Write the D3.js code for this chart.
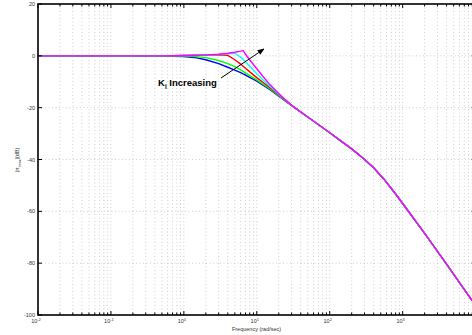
<!DOCTYPE html>
<html>
<head>
<meta charset="utf-8">
<script src="https://cdn.jsdelivr.net/npm/d3@7"></script>
<style>
  html, body { margin: 0; padding: 0; background: #fff; }
  svg { display: block; font-family: "Liberation Sans", Arial, sans-serif; }
</style>
</head>
<body>
<svg id="chart" width="472" height="335"></svg>
<script>
// Closed-loop magnitude for several integral gains (rad/sec vs dB)
const freq = [0.01, 0.1, 0.5, 1, 1.5, 2, 3, 4, 5, 6, 6.5, 7, 8, 10, 12, 15, 20, 25, 33, 50, 100, 140, 200, 290, 400, 550, 800, 1150, 2000, 3800, 9000];

const tail = [-20, -23.6, -29.7, -32.7, -35.9, -39.6, -43.2, -47.5, -53.3, -59.3, -68.5, -79.5, -94.5];
const magBlue    = [0, 0, -0.1, -0.3, -0.8, -1.5, -3.0, -4.4, -5.5, -6.5, -7.0, -7.4, -8.3, -9.8, -11.2, -13.0, -15.6, -17.6, ...tail];
const magGreen   = [0, 0, 0, -0.1, -0.3, -0.7, -1.8, -3.0, -4.2, -5.4, -6.0, -6.6, -7.6, -9.3, -10.8, -12.7, -15.4, -17.5, ...tail];
const magRed     = [0, 0, 0, 0.1, 0.2, 0.3, 0.4, 0.2, -1.5, -3.2, -4.0, -4.8, -6.2, -8.4, -10.1, -12.2, -15.1, -17.4, ...tail];
const magCyan    = [0, 0, 0, 0.1, 0.2, 0.3, 0.5, 0.8, 1.0, -0.5, -1.4, -2.3, -4.0, -6.9, -9.1, -11.6, -14.8, -17.2, ...tail];
const magMagenta = [0, 0, 0, 0.1, 0.2, 0.3, 0.6, 1.0, 1.4, 1.8, 2.0, 0.6, -1.6, -5.0, -7.8, -11.0, -14.5, -17.1, ...tail];

const seriesValues = [magBlue, magGreen, magRed, magCyan, magMagenta];
const seriesColors = ["#0000ff", "#00ff00", "#ff0000", "#00ffff", "#ff00ff"];

const yTicks = [20, 0, -20, -40, -60, -80, -100];
const xDecades = [-2, -1, 0, 1, 2, 3];

const svg = d3.select("#chart");
const margin = { left: 38, top: 4, right: 475.6, bottom: 315 };

const x = d3.scaleLog().domain([1e-2, 1e4]).range([margin.left, margin.right]);
const y = d3.scaleLinear().domain([-100, 20]).range([margin.bottom, margin.top]);

// minor + major log ticks
const allTicks = [];
for (let d = -2; d < 4; d++) {
  for (let k = 1; k <= 9; k++) allTicks.push(k * Math.pow(10, d));
}
allTicks.push(1e4);

const gridG = svg.append("g");
gridG.selectAll("line.vx").data(allTicks.filter(t => t > 1e-2 && t < 1e4)).join("line")
  .attr("x1", d => x(d)).attr("x2", d => x(d))
  .attr("y1", margin.top).attr("y2", margin.bottom)
  .attr("stroke", "#c4c4c4").attr("stroke-width", 0.8)
  .attr("stroke-dasharray", "1,2.5");
gridG.selectAll("line.hy").data(yTicks.filter(t => t > -100 && t < 20)).join("line")
  .attr("x1", margin.left).attr("x2", margin.right)
  .attr("y1", d => y(d)).attr("y2", d => y(d))
  .attr("stroke", "#c4c4c4").attr("stroke-width", 0.8)
  .attr("stroke-dasharray", "1,2.5");

// curves
const line = d3.line().x(d => x(d[0])).y(d => y(d[1]));
svg.append("clipPath").attr("id", "plotclip").append("rect")
  .attr("x", margin.left).attr("y", margin.top)
  .attr("width", margin.right - margin.left).attr("height", margin.bottom - margin.top);

svg.append("g").attr("clip-path", "url(#plotclip)")
  .selectAll("path").data(seriesValues).join("path")
  .attr("d", vals => line(freq.map((f, i) => [f, vals[i]])))
  .attr("fill", "none")
  .attr("stroke", (d, i) => seriesColors[i])
  .attr("stroke-width", 1.4)
  .attr("stroke-linejoin", "round");

// tick marks inside the box
const tickG = svg.append("g").attr("stroke", "#000");
const isMajor = t => Math.abs(Math.log10(t) - Math.round(Math.log10(t))) < 1e-9;
tickG.selectAll("line.bt").data(allTicks).join("line")
  .attr("class", "bt")
  .attr("x1", d => x(d)).attr("x2", d => x(d))
  .attr("y1", margin.bottom).attr("y2", d => margin.bottom - (isMajor(d) ? 4 : 2.5))
  .attr("stroke-width", 1);
tickG.selectAll("line.tt").data(allTicks).join("line")
  .attr("class", "tt")
  .attr("x1", d => x(d)).attr("x2", d => x(d))
  .attr("y1", margin.top).attr("y2", d => margin.top + (isMajor(d) ? 4 : 2.5))
  .attr("stroke-width", 1);
tickG.selectAll("line.lt").data(yTicks).join("line")
  .attr("class", "lt")
  .attr("x1", margin.left).attr("x2", margin.left + 4)
  .attr("y1", d => y(d)).attr("y2", d => y(d))
  .attr("stroke-width", 1);
tickG.selectAll("line.rt").data(yTicks).join("line")
  .attr("class", "rt")
  .attr("x1", margin.right).attr("x2", margin.right - 4)
  .attr("y1", d => y(d)).attr("y2", d => y(d))
  .attr("stroke-width", 1);

// box
svg.append("rect")
  .attr("x", margin.left).attr("y", margin.top)
  .attr("width", margin.right - margin.left).attr("height", margin.bottom - margin.top)
  .attr("fill", "none").attr("stroke", "#000").attr("stroke-width", 1.6);

// y tick labels
svg.append("g").selectAll("text").data(yTicks).join("text")
  .attr("x", margin.left - 3).attr("y", d => y(d) + 2)
  .attr("text-anchor", "end").attr("font-size", 5.5).attr("fill", "#333")
  .text(d => d);

// x tick labels: 10^n
const xl = svg.append("g").selectAll("text").data(xDecades).join("text")
  .attr("x", d => x(Math.pow(10, d)) - 2).attr("y", 323)
  .attr("text-anchor", "middle").attr("font-size", 5.5).attr("fill", "#333");
xl.append("tspan").text("10");
xl.append("tspan").attr("dy", -2.5).attr("font-size", 4).text(d => d);

// axis titles
svg.append("text").attr("x", 256.5).attr("y", 331)
  .attr("text-anchor", "middle").attr("font-size", 5.5).attr("fill", "#333")
  .text("Frequency (rad/sec)");

const yt = svg.append("text")
  .attr("transform", "translate(19,160) rotate(-90)")
  .attr("text-anchor", "middle").attr("font-size", 5.5).attr("fill", "#333");
yt.append("tspan").text("|π");
yt.append("tspan").attr("dy", 1.5).attr("font-size", 4).text("max");
yt.append("tspan").attr("dy", -1.5).text("|(dB)");

// annotation
const ann = svg.append("text").attr("x", 158).attr("y", 86)
  .attr("font-size", 9.5).attr("font-weight", "bold").attr("fill", "#000");
ann.append("tspan").text("K");
ann.append("tspan").attr("dy", 3).attr("font-size", 6.5).text("i");
ann.append("tspan").attr("dy", -3).text(" Increasing");

svg.append("defs").append("marker")
  .attr("id", "arrowhead").attr("viewBox", "0 0 10 10")
  .attr("refX", 9).attr("refY", 5)
  .attr("markerWidth", 7).attr("markerHeight", 7)
  .attr("orient", "auto")
  .append("path").attr("d", "M0,1 L10,5 L0,9 Z").attr("fill", "#000");

svg.append("line")
  .attr("x1", 221).attr("y1", 78).attr("x2", 264).attr("y2", 49)
  .attr("stroke", "#000").attr("stroke-width", 1)
  .attr("marker-end", "url(#arrowhead)");
</script>
</body>
</html>
